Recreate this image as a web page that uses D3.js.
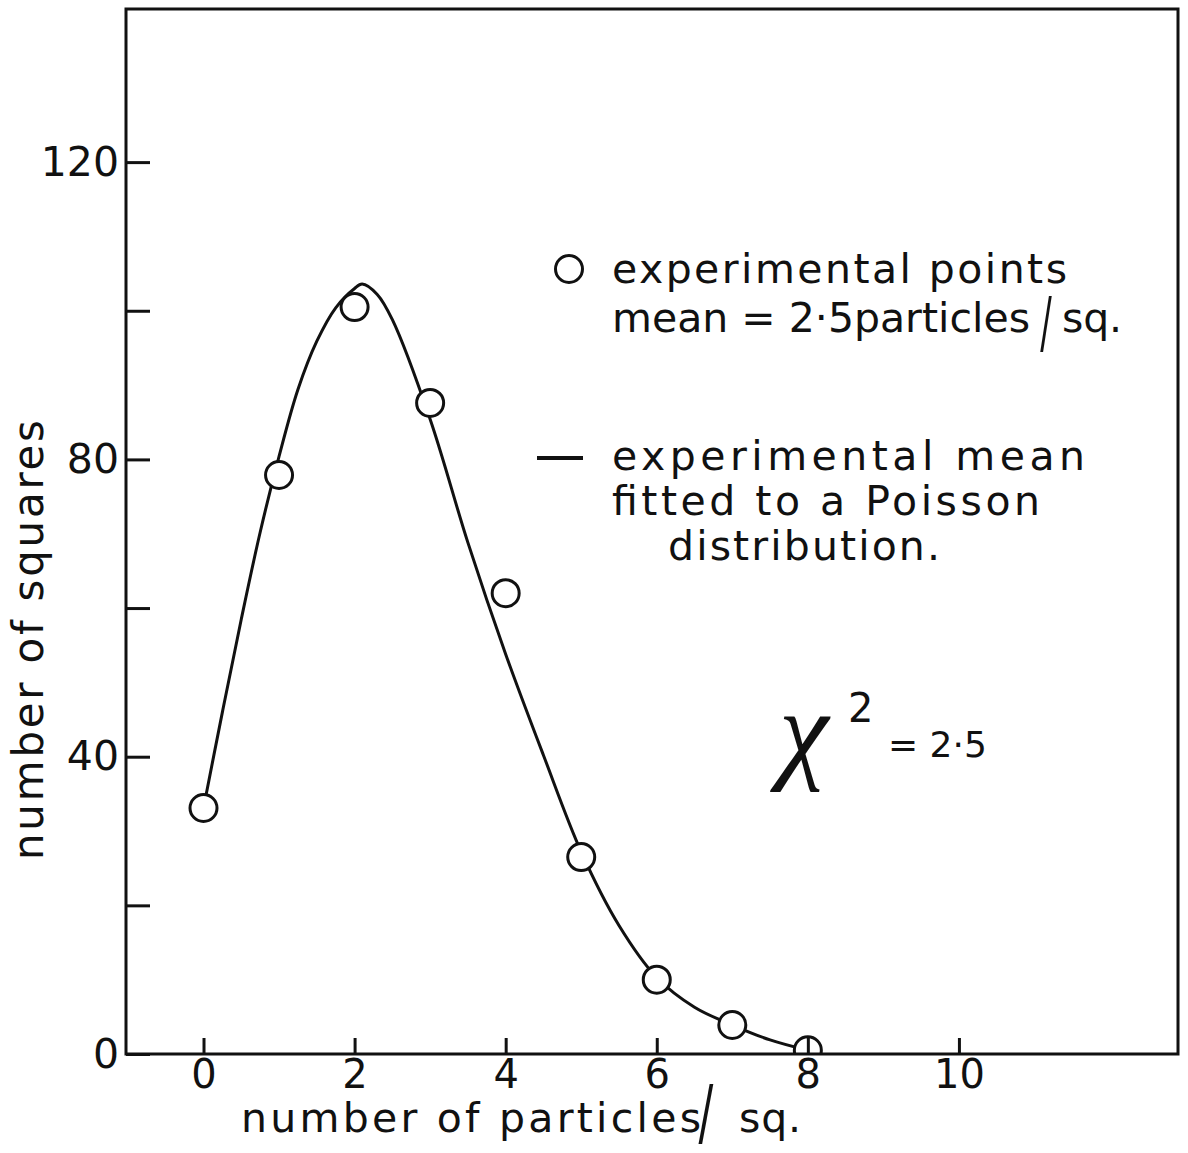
<!DOCTYPE html>
<html>
<head>
<meta charset="utf-8">
<script src="https://cdn.jsdelivr.net/npm/d3@7"></script>
<style>
  html, body { margin: 0; padding: 0; background: #fff; }
  svg { display: block; }
  text { fill: #111; }
</style>
</head>
<body>
<script>
// Counts of squares holding n particles, with the fitted Poisson curve
const particles = [0, 1, 2, 3, 4, 5, 6, 7, 8];
const squaresObserved = [33.1, 77.9, 100.5, 87.6, 62, 26.5, 10, 3.9, 0.5];

const fitParticles = [0, 0.25, 0.5, 0.75, 1, 1.25, 1.5, 1.75, 2, 2.1, 2.3, 2.5, 3, 3.5, 4, 4.5, 5, 5.5, 6, 6.5, 7, 7.5, 8];
const fitSquares   = [33.1, 46, 58.5, 70.2, 80.4, 89.4, 95.9, 100.4, 103, 103.6, 102.2, 98.8, 85.4, 68.8, 53.8, 40.2, 27.2, 17.3, 10.3, 6.3, 3.9, 1.9, 0.5];

const xTickValues = [0, 2, 4, 6, 8, 10];
const yTickValues = [0, 20, 40, 60, 80, 100, 120];
const yLabelledTicks = [0, 40, 80, 120];

const W = 1188, H = 1153;
const plotLeft = 126, plotRight = 1178, plotTop = 9, plotBottom = 1054;
const ink = "#111";
const sans = "'DejaVu Sans', sans-serif";

const svg = d3.select("body").append("svg")
  .attr("width", W).attr("height", H)
  .style("font-family", sans);

const x = d3.scaleLinear().domain([-1.026, 12.9]).range([plotLeft, plotRight]);
const y = d3.scaleLinear().domain([0, 140.6]).range([plotBottom, plotTop]);

// clip for marks so the last circle sits cut by the axis
svg.append("defs").append("clipPath").attr("id", "plot")
  .append("rect").attr("x", plotLeft).attr("y", plotTop)
  .attr("width", plotRight - plotLeft).attr("height", plotBottom - plotTop);

const plot = svg.append("g").attr("clip-path", "url(#plot)");

// fitted curve
const line = d3.line()
  .x((d, i) => x(fitParticles[i]))
  .y(d => y(d))
  .curve(d3.curveCatmullRom.alpha(0.5));

plot.append("path")
  .attr("d", line(fitSquares))
  .attr("fill", "none")
  .attr("stroke", ink)
  .attr("stroke-width", 3)
  .attr("stroke-linejoin", "round");

// observed points
plot.selectAll("circle.obs")
  .data(particles)
  .join("circle")
  .attr("class", "obs")
  .attr("cx", d => x(d))
  .attr("cy", (d, i) => y(squaresObserved[i]))
  .attr("r", 13.5)
  .attr("fill", "#fff")
  .attr("stroke", ink)
  .attr("stroke-width", 3);

// frame
svg.append("rect")
  .attr("x", plotLeft).attr("y", plotTop)
  .attr("width", plotRight - plotLeft).attr("height", plotBottom - plotTop)
  .attr("fill", "none").attr("stroke", ink).attr("stroke-width", 3);

// axes with inward ticks
const yAxis = d3.axisLeft(y)
  .tickValues(yTickValues)
  .tickSize(-24)
  .tickPadding(7)
  .tickFormat(d => yLabelledTicks.includes(d) ? d : "");

const gy = svg.append("g").attr("transform", `translate(${plotLeft},0)`).call(yAxis);
gy.select(".domain").remove();
gy.selectAll(".tick line").attr("stroke", ink).attr("stroke-width", 3);
gy.selectAll(".tick text").attr("font-size", 41).attr("font-family", sans).attr("fill", ink);

const xAxis = d3.axisBottom(x)
  .tickValues(xTickValues)
  .tickSize(-16)
  .tickPadding(6);

const gx = svg.append("g").attr("transform", `translate(0,${plotBottom})`).call(xAxis);
gx.select(".domain").remove();
gx.selectAll(".tick line").attr("stroke", ink).attr("stroke-width", 3);
gx.selectAll(".tick text").attr("font-size", 40).attr("font-family", sans).attr("fill", ink);

// long slash used in the hand-lettered labels (bottom-centre anchored)
function slash(cx, bottomY, h, sx) {
  const fs = h / 0.82;
  svg.append("text")
    .attr("transform", `translate(${cx},${bottomY - 0.094 * fs}) scale(${sx},1)`)
    .attr("text-anchor", "middle")
    .attr("font-size", fs)
    .text("/");
}

// x title
svg.append("text")
  .attr("x", 241).attr("y", 1132)
  .attr("font-size", 41)
  .attr("textLength", 460).attr("lengthAdjust", "spacing")
  .text("number of particles");
slash(706, 1144, 60, 0.6);
svg.append("text")
  .attr("x", 739).attr("y", 1132)
  .attr("font-size", 41)
  .attr("textLength", 62).attr("lengthAdjust", "spacing")
  .text("sq.");

// y title
svg.append("text")
  .attr("transform", "translate(43,640) rotate(-90)")
  .attr("text-anchor", "middle")
  .attr("font-size", 42)
  .attr("textLength", 440).attr("lengthAdjust", "spacing")
  .text("number of squares");

// legend
svg.append("circle")
  .attr("cx", 569).attr("cy", 269).attr("r", 13.5)
  .attr("fill", "none").attr("stroke", ink).attr("stroke-width", 3);
svg.append("line")
  .attr("x1", 537).attr("x2", 583).attr("y1", 458).attr("y2", 458)
  .attr("stroke", ink).attr("stroke-width", 4);

const legendLines = [
  { t: "experimental points", x: 612, y: 283, w: 455 },
  { t: "mean = 2·5particles", x: 612, y: 332, w: 418 },
  { t: "sq.", x: 1062, y: 332, w: 60 },
  { t: "experimental mean", x: 612, y: 470, w: 473 },
  { t: "fitted to a Poisson", x: 612, y: 515, w: 428 },
  { t: "distribution.", x: 668, y: 560, w: 272 }
];
svg.selectAll("text.legend")
  .data(legendLines)
  .join("text")
  .attr("class", "legend")
  .attr("x", d => d.x).attr("y", d => d.y)
  .attr("font-size", 41)
  .attr("textLength", d => d.w).attr("lengthAdjust", "spacing")
  .text(d => d.t);
slash(1046, 352, 56, 0.5);

// chi-squared annotation
svg.append("text")
  .attr("x", 779).attr("y", 768)
  .attr("font-size", 112)
  .style("font-family", "'Liberation Serif', serif")
  .style("font-style", "italic")
  .text("χ");
svg.append("text")
  .attr("x", 848).attr("y", 722)
  .attr("font-size", 40)
  .text("2");
svg.append("text")
  .attr("x", 888).attr("y", 757)
  .attr("font-size", 36)
  .text("= 2·5");
</script>
</body>
</html>
